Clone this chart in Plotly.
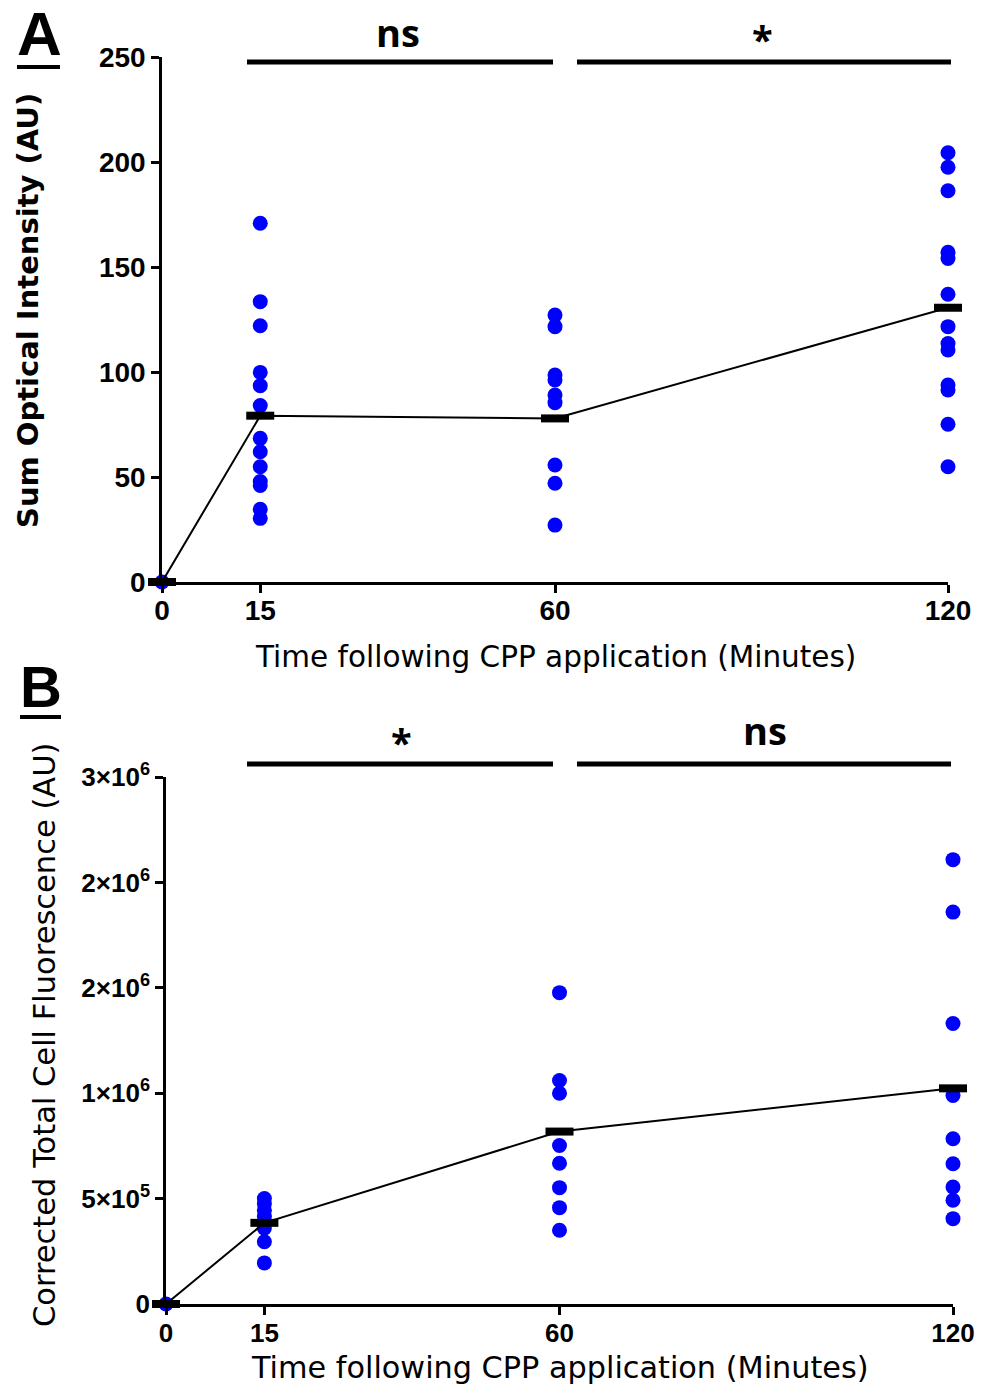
import plotly.graph_objects as go

W, H = 981, 1384

# Time points (minutes) and their tick labels
times = [0, 15, 60, 120]
time_labels = ["0", "15", "60", "120"]

# Panel A: sum optical intensity (AU) per cell at each time point
a_t0 = [0]
a_t15 = [170.8, 133.5, 122.0, 99.8, 93.5, 84.0, 68.4, 62.0, 54.9, 47.8, 46.0, 34.6, 30.3]
a_t60 = [127.1, 121.6, 98.6, 96.2, 89.0, 85.4, 55.7, 47.0, 27.1]
a_t120 = [204.4, 197.5, 186.3, 157.0, 154.1, 137.0, 121.6, 113.6, 110.5, 93.8, 91.4, 75.1, 54.9]
a_means = [0, 79.2, 77.9, 130.6]
a_yticks = [0, 50, 100, 150, 200, 250]
a_sig = ["ns", "*"]

# Panel B: corrected total cell fluorescence (AU)
b_t0 = [0]
b_t15 = [5.0e5, 4.75e5, 4.45e5, 4.15e5, 3.6e5, 2.95e5, 1.95e5]
b_t60 = [1.477e6, 1.06e6, 1.0e6, 7.52e5, 6.68e5, 5.52e5, 4.57e5, 3.5e5]
b_t120 = [2.108e6, 1.859e6, 1.331e6, 9.89e5, 7.84e5, 6.65e5, 5.55e5, 4.92e5, 4.05e5]
b_means = [0, 3.85e5, 8.18e5, 1.023e6]
b_yticks = [0, 5e5, 1e6, 1.5e6, 2e6, 2.5e6]
b_yticklabels = ["0", "5×10<sup>5</sup>", "1×10<sup>6</sup>", "2×10<sup>6</sup>",
                 "2×10<sup>6</sup>", "3×10<sup>6</sup>"]
b_sig = ["*", "ns"]

ARIAL = "Liberation Sans, Arial, sans-serif"
WIDE = "DejaVu Sans, Verdana, sans-serif"
CAL = "Open Sans, Carlito, sans-serif"
BLUE = "#0000FF"


def px(x):
    return x / W


def py(y):
    return 1 - y / H


def groups(vals_by_time):
    xs, ys = [], []
    for t, vals in zip(times, vals_by_time):
        xs += [t] * len(vals)
        ys += list(vals)
    return xs, ys


fig = go.Figure()


def add_panel(fig, xa, ya, vals_by_time, means):
    xs, ys = groups(vals_by_time)
    fig.add_trace(go.Scatter(
        x=xs, y=ys, mode="markers", xaxis=xa, yaxis=ya, cliponaxis=False,
        marker=dict(color=BLUE, size=15, line=dict(width=0)), showlegend=False))
    fig.add_trace(go.Scatter(
        x=times, y=means, mode="lines", xaxis=xa, yaxis=ya, cliponaxis=False,
        line=dict(color="black", width=2), showlegend=False))
    fig.add_trace(go.Scatter(
        x=times, y=means, mode="markers", xaxis=xa, yaxis=ya, cliponaxis=False,
        marker=dict(symbol="line-ew", size=20, line=dict(color="black", width=8)),
        showlegend=False))


add_panel(fig, "x", "y", [a_t0, a_t15, a_t60, a_t120], a_means)
add_panel(fig, "x2", "y2", [b_t0, b_t15, b_t60, b_t120], b_means)

axis_common = dict(showline=True, linecolor="black", linewidth=2.5, ticks="outside",
                   ticklen=8, tickwidth=2.5, tickcolor="black", showgrid=False,
                   zeroline=False, mirror=False, automargin=False)

fig.update_layout(
    width=W, height=H, margin=dict(l=0, r=0, t=0, b=0, pad=0, autoexpand=False),
    paper_bgcolor="white", plot_bgcolor="white", showlegend=False,
    xaxis=dict(domain=[px(162), px(948)], range=[0, 120], anchor="y",
               tickvals=times, ticktext=[f"<b>{t}</b>" for t in time_labels],
               ticklabelstandoff=-6,
               tickfont=dict(family=ARIAL, size=28, color="black"), **axis_common),
    yaxis=dict(domain=[py(582), py(57)], range=[0, 250], anchor="x",
               tickvals=a_yticks, ticktext=[f"<b>{v}</b>" for v in a_yticks],
               tickfont=dict(family=ARIAL, size=28, color="black"), **axis_common),
    xaxis2=dict(domain=[px(166), px(953)], range=[0, 120], anchor="y2",
                tickvals=times, ticktext=[f"<b>{t}</b>" for t in time_labels],
                ticklabelstandoff=-4,
                tickfont=dict(family=ARIAL, size=26, color="black"), **axis_common),
    yaxis2=dict(domain=[py(1304), py(777)], range=[0, 2.5e6], anchor="x2",
                tickvals=b_yticks, ticktext=[f"<b>{t}</b>" for t in b_yticklabels],
                tickfont=dict(family=ARIAL, size=26, color="black"), **axis_common),
)

annotations = []
shapes = []


def text(x, y, s, size, family=ARIAL, angle=0):
    annotations.append(dict(x=px(x), y=py(y), xref="paper", yref="paper", text=s,
                            showarrow=False, textangle=angle, xanchor="center",
                            yanchor="middle", font=dict(family=family, size=size,
                                                        color="black")))


def hline(x0, x1, y, width):
    shapes.append(dict(type="line", xref="paper", yref="paper", x0=px(x0), x1=px(x1),
                       y0=py(y), y1=py(y), line=dict(color="black", width=width)))


# Panel letters with underline
text(39, 34, "<b>A</b>", 62)
hline(17, 60, 67, 4)
text(41, 686, "<b>B</b>", 58)
hline(20, 61, 717, 4)

# Axis titles
text(555, 657, "Time following CPP application (Minutes)", 29.5, family=WIDE)
text(28, 311, "<b>Sum Optical Intensity (AU)</b>", 29, family=WIDE, angle=-90)
text(560, 1367, "Time following CPP application (Minutes)", 30.3, family=WIDE)
text(44, 1035, "Corrected Total Cell Fluorescence (AU)", 30.5, family=WIDE, angle=-90)

# Significance bars
sig_spans = [(247, 553), (577, 951)]
for (x0, x1), s in zip(sig_spans, a_sig):
    hline(x0, x1, 62, 5)
    text((x0 + x1) / 2 - 2, 32 if s != "*" else 39, f"<b>{s}</b>", 38, family=CAL)
for (x0, x1), s in zip(sig_spans, b_sig):
    hline(x0, x1, 764, 5)
    text((x0 + x1) / 2 + 1, 730 if s != "*" else 742, f"<b>{s}</b>", 38, family=CAL)

fig.update_layout(annotations=annotations, shapes=shapes)

fig.write_html("out.html")
